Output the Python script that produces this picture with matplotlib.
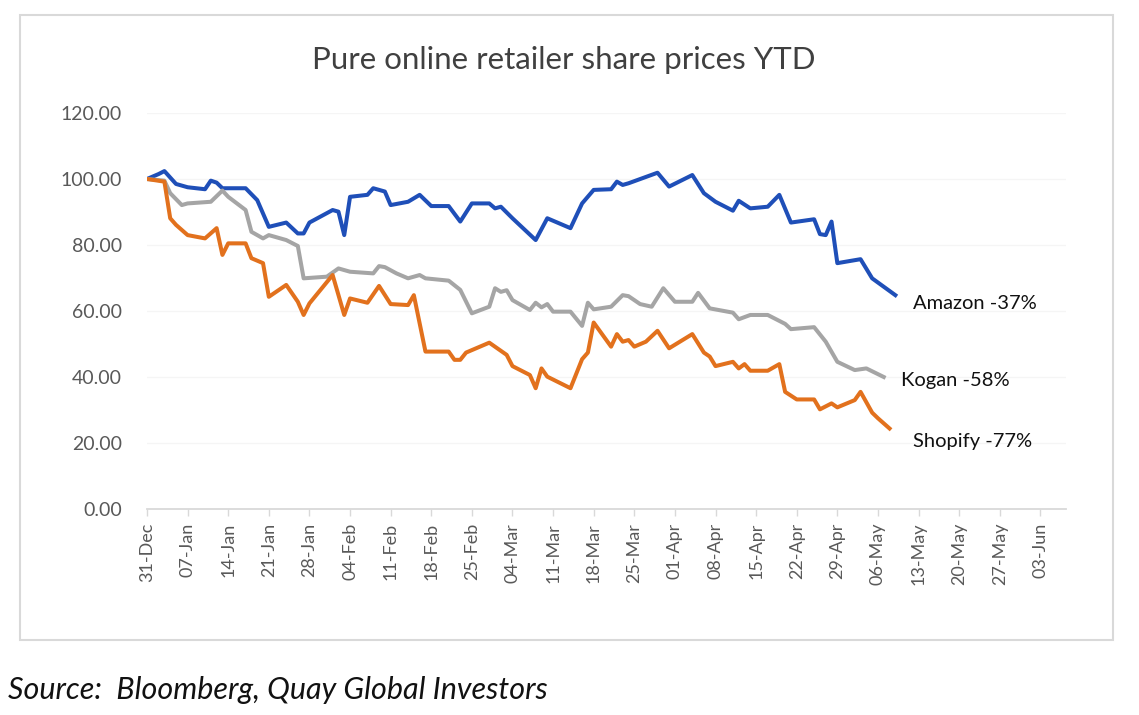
import matplotlib
matplotlib.use("Agg")
import matplotlib.pyplot as plt
import matplotlib.dates as mdates
from matplotlib.patches import Rectangle
import pandas as pd

plt.rcParams['font.family'] = ['Lato', 'DejaVu Sans']

title = "Pure online retailer share prices YTD"
source = "Source:  Bloomberg, Quay Global Investors"

amazon_dates = ["2021-12-31", "2022-01-02", "2022-01-03", "2022-01-05", "2022-01-07", "2022-01-10",
                "2022-01-11", "2022-01-12", "2022-01-13", "2022-01-17", "2022-01-19", "2022-01-21",
                "2022-01-24", "2022-01-26", "2022-01-27", "2022-01-28", "2022-02-01", "2022-02-02",
                "2022-02-03", "2022-02-04", "2022-02-07", "2022-02-08", "2022-02-10", "2022-02-11",
                "2022-02-14", "2022-02-16", "2022-02-18", "2022-02-21", "2022-02-23", "2022-02-25",
                "2022-02-28", "2022-03-01", "2022-03-02", "2022-03-04", "2022-03-08", "2022-03-10",
                "2022-03-14", "2022-03-16", "2022-03-18", "2022-03-21", "2022-03-22", "2022-03-23",
                "2022-03-24", "2022-03-29", "2022-03-31", "2022-04-04", "2022-04-06", "2022-04-08",
                "2022-04-11", "2022-04-12", "2022-04-14", "2022-04-17", "2022-04-19", "2022-04-21",
                "2022-04-25", "2022-04-26", "2022-04-27", "2022-04-28", "2022-04-29", "2022-05-03",
                "2022-05-05", "2022-05-09"]
amazon_values = [100.0, 101.5, 102.4, 98.5, 97.5, 96.9,
                 99.5, 98.9, 97.2, 97.2, 93.6, 85.5,
                 86.8, 83.5, 83.5, 86.8, 90.6, 90.1,
                 83.0, 94.6, 95.2, 97.2, 96.2, 92.1,
                 93.1, 95.2, 91.8, 91.8, 87.1, 92.6,
                 92.6, 91.1, 91.6, 88.1, 81.5, 88.1,
                 85.1, 92.6, 96.7, 96.9, 99.2, 98.2,
                 98.7, 101.9, 97.7, 101.2, 95.7, 93.1,
                 90.4, 93.4, 91.1, 91.6, 95.2, 86.8,
                 87.8, 83.3, 83.0, 87.1, 74.5, 75.7,
                 69.9, 64.8]

kogan_dates = ["2021-12-31", "2022-01-03", "2022-01-04", "2022-01-06", "2022-01-07", "2022-01-11",
               "2022-01-13", "2022-01-14", "2022-01-17", "2022-01-18", "2022-01-19", "2022-01-20",
               "2022-01-21", "2022-01-24", "2022-01-26", "2022-01-27", "2022-01-31", "2022-02-02",
               "2022-02-04", "2022-02-08", "2022-02-09", "2022-02-10", "2022-02-12", "2022-02-14",
               "2022-02-16", "2022-02-17", "2022-02-21", "2022-02-23", "2022-02-25", "2022-02-28",
               "2022-03-01", "2022-03-02", "2022-03-03", "2022-03-04", "2022-03-07", "2022-03-08",
               "2022-03-09", "2022-03-10", "2022-03-11", "2022-03-14", "2022-03-16", "2022-03-17",
               "2022-03-18", "2022-03-21", "2022-03-23", "2022-03-24", "2022-03-26", "2022-03-28",
               "2022-03-30", "2022-04-01", "2022-04-04", "2022-04-05", "2022-04-07", "2022-04-11",
               "2022-04-12", "2022-04-14", "2022-04-17", "2022-04-20", "2022-04-21", "2022-04-25",
               "2022-04-27", "2022-04-29", "2022-05-02", "2022-05-04", "2022-05-07"]
kogan_values = [100.0, 99.5, 95.7, 92.1, 92.6, 93.1,
                96.5, 94.6, 90.6, 84.0, 83.0, 82.0,
                83.0, 81.5, 79.7, 69.9, 70.4, 72.9,
                71.9, 71.4, 73.6, 73.3, 71.4, 69.9,
                70.9, 69.9, 69.2, 66.4, 59.3, 61.3,
                66.9, 65.8, 66.3, 63.3, 60.3, 62.5,
                61.1, 62.1, 59.8, 59.8, 55.5, 62.5,
                60.5, 61.3, 64.8, 64.5, 62.1, 61.3,
                66.9, 62.8, 62.8, 65.5, 60.8, 59.5,
                57.5, 58.8, 58.8, 56.1, 54.5, 55.1,
                50.7, 44.6, 42.1, 42.6, 40.0]

shopify_dates = ["2021-12-31", "2022-01-03", "2022-01-04", "2022-01-05", "2022-01-07", "2022-01-10",
                 "2022-01-12", "2022-01-13", "2022-01-14", "2022-01-17", "2022-01-18", "2022-01-20",
                 "2022-01-21", "2022-01-24", "2022-01-26", "2022-01-27", "2022-01-28", "2022-02-01",
                 "2022-02-03", "2022-02-04", "2022-02-07", "2022-02-09", "2022-02-11", "2022-02-14",
                 "2022-02-15", "2022-02-17", "2022-02-21", "2022-02-22", "2022-02-23", "2022-02-24",
                 "2022-02-28", "2022-03-03", "2022-03-04", "2022-03-07", "2022-03-08", "2022-03-09",
                 "2022-03-10", "2022-03-14", "2022-03-16", "2022-03-17", "2022-03-18", "2022-03-21",
                 "2022-03-22", "2022-03-23", "2022-03-24", "2022-03-25", "2022-03-27", "2022-03-29",
                 "2022-03-31", "2022-04-04", "2022-04-06", "2022-04-07", "2022-04-08", "2022-04-11",
                 "2022-04-12", "2022-04-13", "2022-04-14", "2022-04-17", "2022-04-19", "2022-04-20",
                 "2022-04-22", "2022-04-25", "2022-04-26", "2022-04-28", "2022-04-29", "2022-05-02",
                 "2022-05-03", "2022-05-05", "2022-05-06", "2022-05-08"]
shopify_values = [100.0, 99.2, 88.1, 86.1, 83.0, 82.0,
                  85.1, 77.0, 80.5, 80.5, 76.0, 74.5,
                  64.3, 67.9, 62.8, 58.8, 62.3, 70.9,
                  58.8, 63.8, 62.5, 67.6, 62.1, 61.8,
                  64.8, 47.7, 47.7, 45.2, 45.2, 47.4,
                  50.4, 46.7, 43.3, 40.6, 36.6, 42.6,
                  40.1, 36.6, 45.4, 47.4, 56.5, 49.2,
                  53.0, 50.7, 51.2, 49.2, 50.7, 54.0,
                  48.7, 53.0, 47.4, 46.2, 43.3, 44.6,
                  42.6, 43.9, 41.9, 41.9, 43.9, 35.5,
                  33.2, 33.2, 30.2, 32.0, 30.8, 33.0,
                  35.5, 29.2, 27.5, 24.4]

series_names = ["Amazon", "Kogan", "Shopify"]
end_labels = ["Amazon -37%", "Kogan -58%", "Shopify -77%"]
label_dates = ["2022-05-12", "2022-05-10", "2022-05-12"]
label_values = [62.4, 38.8, 20.6]
colors = ["#1f4fb8", "#a5a5a5", "#e2711d"]

y_ticks = [0, 20, 40, 60, 80, 100, 120]
x_tick_start = "2021-12-31"
x_tick_end = "2022-06-03"

fig = plt.figure(figsize=(11.39, 7.15), dpi=100)
fig.patch.set_facecolor("white")
fig.add_artist(Rectangle((20 / 1139, 1 - 640 / 715), (1113 - 20) / 1139, (640 - 15) / 715,
                         transform=fig.transFigure, fill=False, edgecolor="#d9d9d9", lw=1.5))

ax = fig.add_axes([147 / 1139, (715 - 509) / 715, (1066 - 147) / 1139, (509 - 113) / 715])

all_dates = [amazon_dates, kogan_dates, shopify_dates]
all_vals = [amazon_values, kogan_values, shopify_values]
for name, d, v, c in zip(series_names, all_dates, all_vals, colors):
    ax.plot(pd.to_datetime(d), v, color=c, lw=2.9, solid_joinstyle="round", label=name, zorder=3)

for txt, d, v in zip(end_labels, label_dates, label_values):
    ax.text(pd.Timestamp(d), v, txt, fontsize=14.5, color="#111111", va="center", ha="left")

ax.set_ylim(0, 120)
ax.set_yticks(y_ticks)
ax.set_yticklabels([f"{t:.2f}" for t in y_ticks])
ax.set_xlim(pd.Timestamp("2021-12-31"), pd.Timestamp("2022-06-07 10:00"))
xt = pd.date_range(x_tick_start, x_tick_end, freq="7D")
ax.set_xticks(xt)
ax.set_xticklabels([t.strftime("%d-%b") for t in xt], rotation=90)

for s in ["top", "right", "left"]:
    ax.spines[s].set_visible(False)
ax.spines["bottom"].set_color("#d9d9d9")
ax.spines["bottom"].set_linewidth(1.3)
ax.tick_params(axis="y", length=0, pad=18, labelsize=14, labelcolor="#595959")
ax.tick_params(axis="x", length=5, width=1, color="#d9d9d9", pad=5, labelsize=13, labelcolor="#595959")
ax.grid(axis="y", color="#f5f5f5", lw=1)
ax.set_axisbelow(True)

fig.text(564 / 1139, 1 - 60 / 715, title, ha="center", va="center", fontsize=22.5, color="#404040")
fig.text(8 / 1139, 1 - 690 / 715, source, ha="left", va="center", fontsize=22, style="italic", color="#111111")

fig.savefig("out.png", dpi=100, facecolor="white")
